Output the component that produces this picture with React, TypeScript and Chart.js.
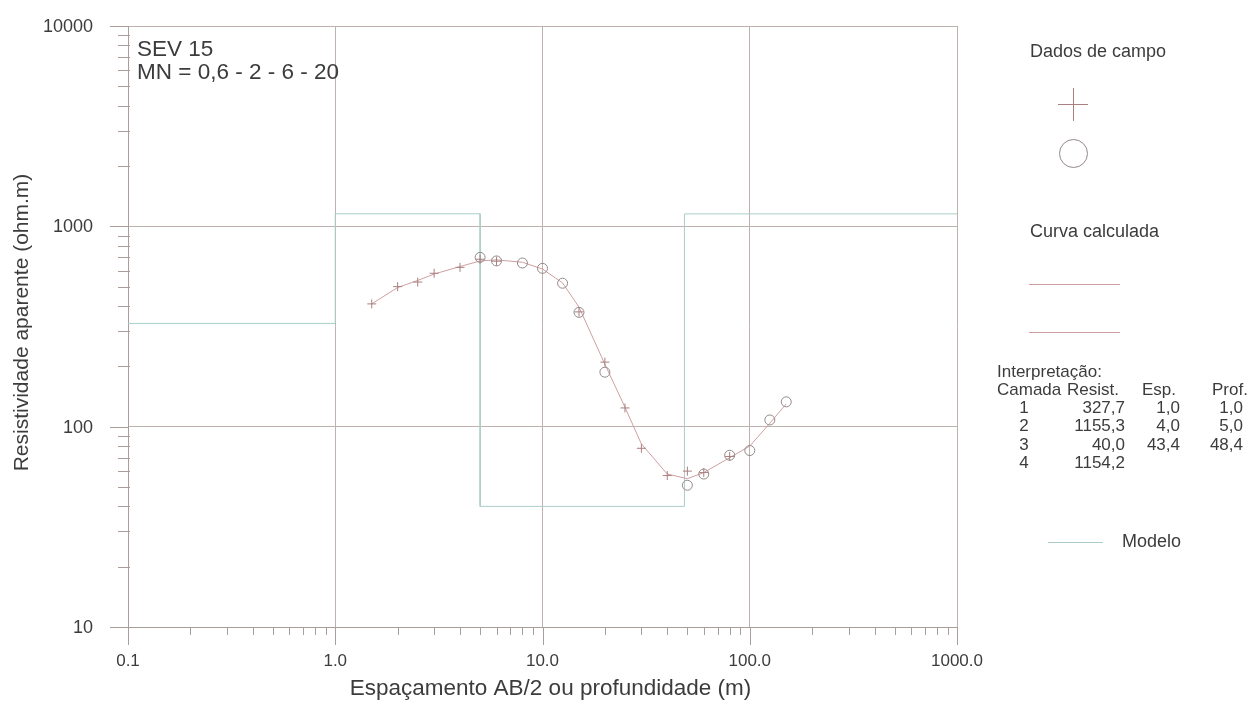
import React, { useEffect, useRef } from 'react';
import { Chart, registerables } from 'chart.js';

Chart.register(...registerables);

// ---- data ----
const crossX = [1.5, 2, 2.5, 3, 4, 5, 6, 15, 20, 25, 30, 40, 50, 60, 80];
const crossY = [410, 500, 527, 583, 624, 685, 670, 374, 210, 124, 78, 57, 60, 59, 71];
const circleX = [5, 6, 8, 10, 12.5, 15, 20, 50, 60, 80, 100, 125, 150];
const circleY = [700, 672, 656, 617, 520, 372, 187, 51, 58, 72, 76, 108, 133];
const calcX = [1.5, 2, 2.5, 3, 4, 5, 6, 8, 10, 12.5, 15, 20, 25, 30, 40, 50, 60, 80, 100, 125, 150];
const calcY = [410, 495, 537, 578, 630, 672, 680, 662, 612, 522, 395, 205, 125, 82, 58, 55, 59, 70, 80, 104, 130];
const layerNum = [1, 2, 3, 4];
const layerRes = [327.7, 1155.3, 40.0, 1154.2];
const layerThick = [1.0, 4.0, 43.4];
const layerDepth = [1.0, 5.0, 48.4];
const xTickValues = [0.1, 1, 10, 100, 1000];
const xTickLabels = ['0.1', '1.0', '10.0', '100.0', '1000.0'];
const yTickValues = [10, 100, 1000, 10000];
const yTickLabels = ['10', '100', '1000', '10000'];
const xMin = 0.1, xMax = 1000, yMin = 10, yMax = 10000;

const annotLines = ['SEV 15', 'MN = 0,6 - 2 - 6 - 20'];
const xTitle = 'Espaçamento AB/2 ou profundidade (m)';
const yTitle = 'Resistividade aparente (ohm.m)';

// ---- styles ----
const FONT = '"Liberation Sans", Arial, Helvetica, sans-serif';
const textColor = '#3c3c3c';
const gridColor = '#bdb2ae';
const axisColor = '#aa9e9b';
const modelColor = '#aacdc8';
const curveColor = '#cf9fa0';
const crossColor = '#a97f7f';
const circleColor = '#948888';

const isDecade = (v: number) => {
  const l = Math.log10(v);
  return Math.abs(l - Math.round(l)) < 1e-6;
};
const logTicks = (min: number, max: number) => {
  const out: number[] = [];
  const e0 = Math.round(Math.log10(min));
  const e1 = Math.round(Math.log10(max));
  for (let e = e0; e <= e1; e++) {
    for (let m = 1; m <= 9; m++) {
      const v = parseFloat((m * Math.pow(10, e)).toPrecision(6));
      if (v >= min - 1e-9 && v <= max + 1e-9) out.push(v);
    }
  }
  return out;
};
const labelFor = (vals: number[], labels: string[], value: number) => {
  const i = vals.findIndex((v) => Math.abs(v - value) / v < 1e-6);
  return i >= 0 ? labels[i] : '';
};
const fmt = (v: number) => v.toFixed(1).replace('.', ',');

const pts = (xs: number[], ys: number[]) => xs.map((x, i) => ({ x, y: ys[i] }));

const modelPoints = () => {
  const p = [{ x: xMin, y: layerRes[0] }];
  layerDepth.forEach((d, i) => {
    p.push({ x: d, y: layerRes[i] });
    p.push({ x: d, y: layerRes[i + 1] });
  });
  p.push({ x: xMax, y: layerRes[layerRes.length - 1] });
  return p;
};

const extrasPlugin = {
  id: 'extras',
  afterDraw(chart: any) {
    const ctx = chart.ctx as CanvasRenderingContext2D;
    const xs = chart.scales.x;
    const ys = chart.scales.y;
    const a = chart.chartArea;
    ctx.save();
    // axis ticks
    ctx.strokeStyle = axisColor;
    ctx.lineWidth = 1;
    ctx.beginPath();
    logTicks(xMin, xMax).forEach((v) => {
      const px = Math.round(xs.getPixelForValue(v)) + 0.5;
      const len = isDecade(v) ? 18 : 8;
      ctx.moveTo(px, a.bottom);
      ctx.lineTo(px, a.bottom + len);
    });
    logTicks(yMin, yMax).forEach((v) => {
      const py = Math.round(ys.getPixelForValue(v)) + 0.5;
      if (isDecade(v)) {
        ctx.moveTo(a.left - 18, py);
        ctx.lineTo(a.left, py);
      } else {
        ctx.moveTo(a.left - 10, py);
        ctx.lineTo(a.left + 2, py);
      }
    });
    ctx.stroke();

    ctx.fillStyle = textColor;
    // y tick labels
    ctx.font = `18px ${FONT}`;
    ctx.textAlign = 'right';
    ctx.textBaseline = 'middle';
    yTickValues.forEach((v, i) => {
      ctx.fillText(yTickLabels[i], a.left - 35, ys.getPixelForValue(v) + 1);
    });

    // axis titles
    ctx.textAlign = 'center';
    ctx.font = `22.5px ${FONT}`;
    ctx.fillText(xTitle, (a.left + a.right) / 2 + 8, 689);
    ctx.save();
    ctx.translate(22, (a.top + a.bottom) / 2 - 4);
    ctx.rotate(-Math.PI / 2);
    ctx.font = `21px ${FONT}`;
    ctx.fillText(yTitle, 0, 0);
    ctx.restore();

    // annotation
    ctx.textAlign = 'left';
    ctx.textBaseline = 'alphabetic';
    ctx.font = `22.5px ${FONT}`;
    annotLines.forEach((t, i) => ctx.fillText(t, a.left + 9, 56 + i * 23));

    // legend
    ctx.font = `18px ${FONT}`;
    ctx.textBaseline = 'middle';
    ctx.fillText('Dados de campo', 1030, 52);
    ctx.strokeStyle = crossColor;
    ctx.beginPath();
    ctx.moveTo(1058, 104.5); ctx.lineTo(1088, 104.5);
    ctx.moveTo(1073.5, 88); ctx.lineTo(1073.5, 121);
    ctx.stroke();
    ctx.strokeStyle = circleColor;
    ctx.beginPath();
    ctx.arc(1073.5, 153.5, 14, 0, Math.PI * 2);
    ctx.stroke();
    ctx.fillText('Curva calculada', 1030, 232);
    ctx.strokeStyle = curveColor;
    ctx.beginPath();
    ctx.moveTo(1029, 284.5); ctx.lineTo(1120, 284.5);
    ctx.moveTo(1029, 332.5); ctx.lineTo(1120, 332.5);
    ctx.stroke();

    // interpretation table
    ctx.font = `17px ${FONT}`;
    ctx.fillText('Interpretação:', 997, 372);
    ctx.fillText('Camada', 997, 390);
    ctx.fillText('Resist.', 1067, 390);
    ctx.fillText('Esp.', 1142, 390);
    ctx.fillText('Prof.', 1212, 390);
    layerNum.forEach((n, i) => {
      const y = 408 + i * 18.5;
      ctx.textAlign = 'center';
      ctx.fillText(String(n), 1024, y);
      ctx.textAlign = 'right';
      ctx.fillText(fmt(layerRes[i]), 1125, y);
      if (i < layerThick.length) {
        ctx.fillText(fmt(layerThick[i]), 1180, y);
        ctx.fillText(fmt(layerDepth[i]), 1243, y);
      }
    });
    ctx.textAlign = 'left';
    ctx.strokeStyle = modelColor;
    ctx.beginPath();
    ctx.moveTo(1048, 542.5); ctx.lineTo(1103, 542.5);
    ctx.stroke();
    ctx.font = `18px ${FONT}`;
    ctx.fillText('Modelo', 1122, 542);
    ctx.restore();
  },
};

export default function App() {
  const ref = useRef<HTMLCanvasElement>(null);
  useEffect(() => {
    document.body.style.margin = '0';
    document.body.style.overflow = 'hidden';
    Chart.defaults.font.family = FONT;
    const gridScript = (c: any) => (c.tick && isDecade(c.tick.value) ? gridColor : 'rgba(0,0,0,0)');
    const chart = new Chart(ref.current as HTMLCanvasElement, {
      type: 'scatter',
      data: {
        datasets: [
          {
            label: 'Modelo',
            data: modelPoints(),
            showLine: true,
            borderColor: modelColor,
            borderWidth: 1,
            pointRadius: 0,
            order: 4,
          },
          {
            label: 'Curva calculada',
            data: pts(calcX, calcY),
            showLine: true,
            borderColor: curveColor,
            borderWidth: 1,
            pointRadius: 0,
            order: 3,
          },
          {
            label: 'Dados de campo +',
            data: pts(crossX, crossY),
            showLine: false,
            pointStyle: 'cross',
            pointRadius: 4.5,
            borderColor: crossColor,
            borderWidth: 1,
            order: 2,
          },
          {
            label: 'Dados de campo o',
            data: pts(circleX, circleY),
            showLine: false,
            pointStyle: 'circle',
            pointRadius: 5,
            borderColor: circleColor,
            backgroundColor: 'rgba(255,255,255,0)',
            borderWidth: 1,
            order: 1,
          },
        ],
      } as any,
      options: {
        animation: false,
        responsive: false,
        devicePixelRatio: 1,
        events: [],
        layout: { padding: { top: 26, right: 296, left: 0, bottom: 0 } },
        plugins: { legend: { display: false }, tooltip: { enabled: false } },
        scales: {
          x: {
            type: 'logarithmic',
            min: xMin,
            max: xMax,
            afterBuildTicks: (s: any) => {
              s.ticks = logTicks(xMin, xMax).map((value) => ({ value }));
            },
            afterFit: (s: any) => {
              s.height = 77;
            },
            grid: { color: gridScript, drawTicks: false, lineWidth: 1 },
            border: { color: axisColor, width: 1 },
            ticks: {
              autoSkip: false,
              maxRotation: 0,
              minRotation: 0,
              padding: 24,
              color: textColor,
              font: { size: 17, family: FONT, lineHeight: 1.2 },
              callback: (v: any) => labelFor(xTickValues, xTickLabels, Number(v)),
            },
            title: { display: false },
          },
          y: {
            type: 'logarithmic',
            min: yMin,
            max: yMax,
            afterBuildTicks: (s: any) => {
              s.ticks = logTicks(yMin, yMax).map((value) => ({ value }));
            },
            afterFit: (s: any) => {
              s.width = 128;
            },
            grid: { color: gridScript, drawTicks: false, lineWidth: 1 },
            border: { color: axisColor, width: 1 },
            ticks: { display: false },
            title: { display: false },
          },
        },
      } as any,
      plugins: [extrasPlugin],
    });
    return () => chart.destroy();
  }, []);
  return (
    <div style={{ width: 1253, height: 704, background: '#fff', position: 'relative' }}>
      <canvas ref={ref} width={1253} height={704} style={{ display: 'block' }} />
    </div>
  );
}
